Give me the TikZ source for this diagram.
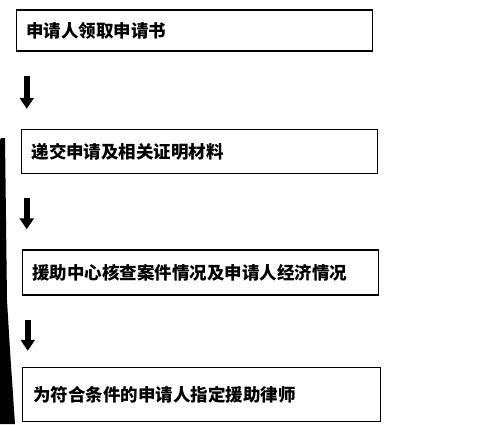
\documentclass[tikz,border=0pt]{standalone}
\usepackage{fontspec}
\newfontfamily\cjk{Noto Sans CJK SC}
\usepackage{tikz}
\usetikzlibrary{positioning, arrows.meta}

\tikzset{
	stepbox/.style={draw, line width=1.5pt, minimum width=356pt, minimum height=44pt, text width=336pt, align=left, inner sep=10pt, font=\cjk\bfseries\fontsize{17.5}{20}\selectfont},
	flowarrow/.style={line width=6pt, -{Triangle[width=14pt, length=11pt]}, shorten <=24pt, shorten >=20pt}
}

\begin{document}
\begin{tikzpicture}[x=1pt, y=-1pt]
		\useasboundingbox[fill=white] (0,0) rectangle (483,424);
		% scanned edge on the left
		\fill (1,138) -- (5,138) -- (7,300) -- (10,350) -- (15,424) -- (0,424) -- (0,140) -- cycle;
		
		\node[stepbox, minimum width=355pt, minimum height=41pt] (step 1) at (194.5,30.5) {申请人领取申请书};
		
		\node[stepbox, below=77pt of step 1.south west, anchor=north west, xshift=5pt] (step 2) {递交申请及相关证明材料};
		
		\node[stepbox, minimum height=45pt, below=75pt of step 2.south west, anchor=north west, xshift=1pt] (step 3) {援助中心核查案件情况及申请人经济情况};
		
		\node[stepbox, minimum width=358pt, minimum height=54pt, below=71pt of step 3.south west, anchor=north west] (step 4) {为符合条件的申请人指定援助律师};
		
		\draw[flowarrow] ([xshift=11pt]step 1.south west)--([xshift=11pt]step 1.south west |- step 2.north);
		\draw[flowarrow] ([xshift=6pt]step 2.south west)--([xshift=6pt]step 2.south west |- step 3.north);
		\draw[flowarrow, shorten >=16pt] ([xshift=6pt]step 3.south west)--([xshift=6pt]step 3.south west |- step 4.north);
	\end{tikzpicture}
\end{document}
